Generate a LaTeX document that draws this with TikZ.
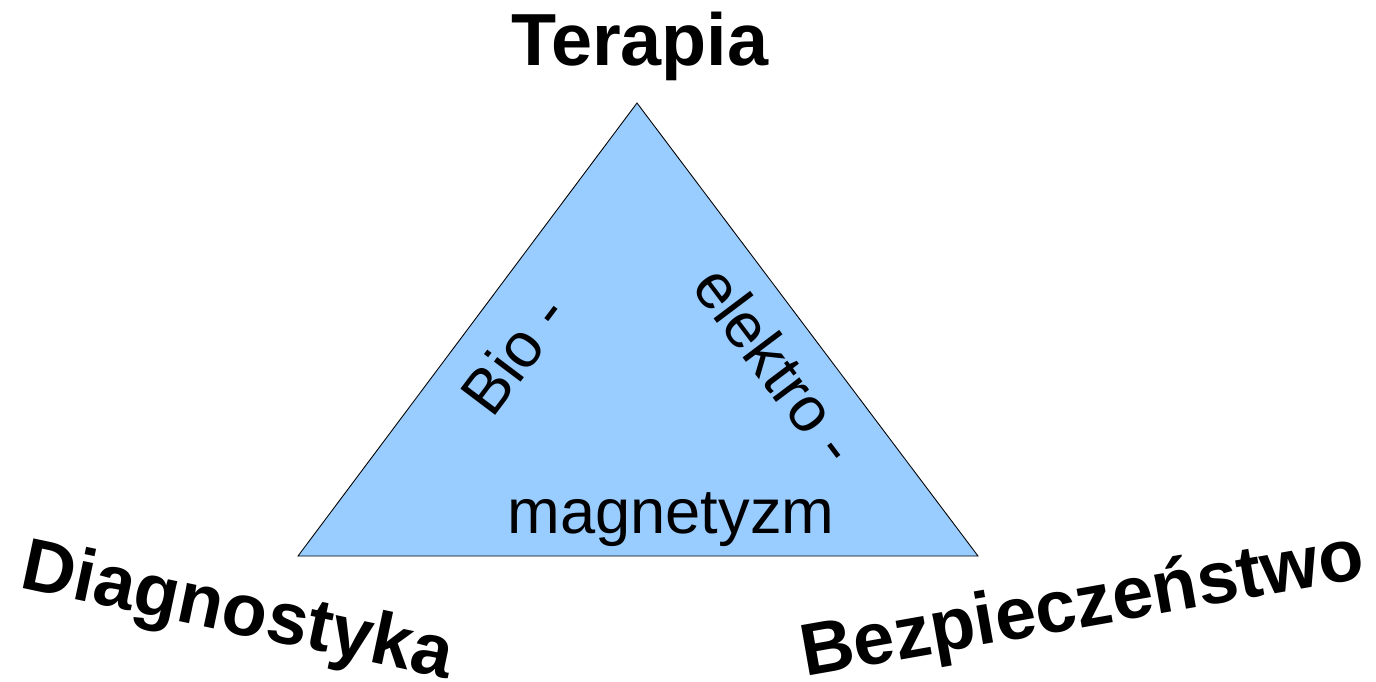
\documentclass[tikz,border=0pt]{standalone}
\usepackage{fontspec}
\setmainfont{Liberation Sans}
\usepackage{tikz}
\definecolor{sky}{HTML}{99CCFF}
\definecolor{ink}{HTML}{000000}

\begin{document}
\begin{tikzpicture}[x=0.02cm,y=0.02cm,
  corner/.style={font=\fontsize{42}{50}\selectfont\bfseries,text=ink,anchor=base,inner sep=0pt},
  side/.style={font=\fontsize{36}{43}\selectfont,text=ink,inner sep=0pt}]
\useasboundingbox (0,0) rectangle (1376,681);
% triangle
\coordinate (left) at (298,125);
\coordinate (right) at (978,125);
\coordinate (top) at (637,578);
\draw[ink,fill=sky,line width=0.5pt] (left) -- (right) -- (top) -- cycle;
% corner words
\node[corner] (terapia) at (640,616) {Terapia};
\node[corner,rotate=-12] (diag) at (233,48) {Diagnostyka};
\node[corner,rotate=10] (bezp) at (1086,54) {Bezpieczeństwo};
% inside words
\node[side,rotate=53] (bio) at (514,327) {Bio -};
\node[side,rotate=-53] (elektro) at (777,316) {elektro -};
\node[side,anchor=base] (magnet) at (671,148) {magnetyzm};
\end{tikzpicture}
\end{document}
